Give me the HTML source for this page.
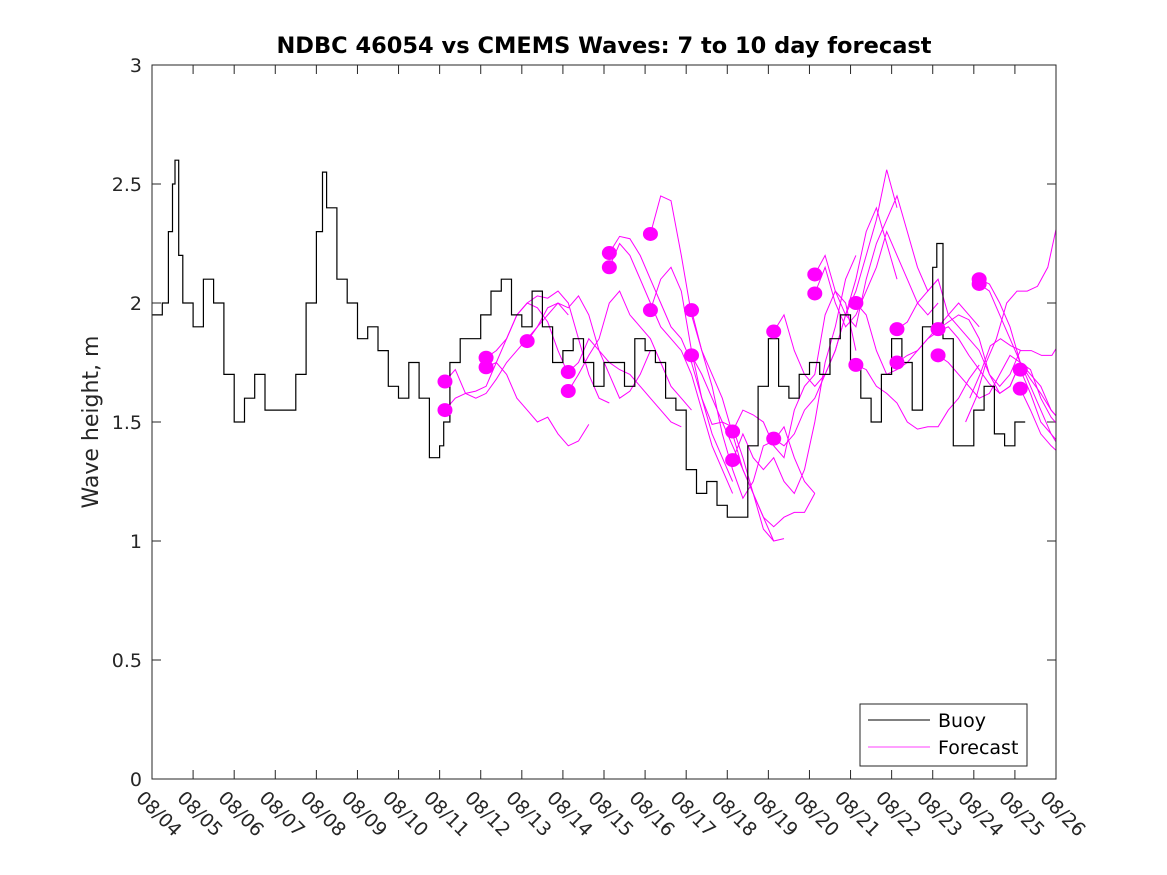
<!DOCTYPE html>
<html><head><meta charset="utf-8"><style>
body{margin:0;background:#fff;}
svg{display:block;font-family:"DejaVu Sans","Liberation Sans",sans-serif;}
</style></head><body>
<svg id="chart" width="1167" height="875" xmlns="http://www.w3.org/2000/svg">
<defs><clipPath id="plotclip"><rect x="152" y="65" width="904" height="714"/></clipPath></defs>
<rect width="1167" height="875" fill="#fff"/>
<text x="604" y="53" text-anchor="middle" font-size="22.5" font-weight="bold" fill="#000">NDBC 46054 vs CMEMS Waves: 7 to 10 day forecast</text>
<text transform="translate(98,422) rotate(-90)" text-anchor="middle" font-size="22" fill="#262626">Wave height, m</text>
<g id="axes"></g>
<g id="forecasts" clip-path="url(#plotclip)"></g>
<g id="buoy" clip-path="url(#plotclip)"></g>
<g id="dots"></g>
<rect x="152" y="65" width="904" height="714" fill="none" stroke="#262626" stroke-width="1"/>
<g>
<rect x="860" y="704" width="167" height="62" fill="#fff" stroke="#262626"/>
<line x1="868" y1="720" x2="930" y2="720" stroke="#000"/>
<text x="938" y="727" font-size="19" fill="#000">Buoy</text>
<line x1="868" y1="747" x2="930" y2="747" stroke="#ff00ff" stroke-width="0.7"/>
<text x="938" y="754" font-size="19" fill="#000">Forecast</text>
</g>
</svg>
<script>
const xTickLabels=["08/04","08/05","08/06","08/07","08/08","08/09","08/10","08/11","08/12","08/13","08/14","08/15","08/16","08/17","08/18","08/19","08/20","08/21","08/22","08/23","08/24","08/25","08/26"];
const yTicks=[0,0.5,1,1.5,2,2.5,3];
const buoyDays=[0,0.25,0.4,0.5,0.56,0.65,0.75,1.0,1.25,1.5,1.75,2.0,2.25,2.5,2.75,3.0,3.25,3.5,3.75,4.0,4.15,4.25,4.5,4.75,5.0,5.25,5.5,5.75,6.0,6.25,6.5,6.75,7.0,7.1,7.25,7.5,7.75,8.0,8.25,8.5,8.75,9.0,9.25,9.5,9.75,10.0,10.25,10.5,10.75,11.0,11.25,11.5,11.75,12.0,12.25,12.5,12.75,13.0,13.25,13.5,13.75,14.0,14.25,14.5,14.75,15.0,15.25,15.5,15.75,16.0,16.25,16.5,16.75,17.0,17.25,17.5,17.75,18.0,18.25,18.5,18.75,19.0,19.1,19.25,19.5,19.75,20.0,20.25,20.5,20.75,21.0,21.25];
const buoyVals=[1.95,2.0,2.3,2.5,2.6,2.2,2.0,1.9,2.1,2.0,1.7,1.5,1.6,1.7,1.55,1.55,1.55,1.7,2.0,2.3,2.55,2.4,2.1,2.0,1.85,1.9,1.8,1.65,1.6,1.75,1.6,1.35,1.4,1.5,1.75,1.85,1.85,1.95,2.05,2.1,1.95,1.9,2.05,1.9,1.75,1.8,1.85,1.75,1.65,1.75,1.75,1.65,1.85,1.8,1.75,1.6,1.55,1.3,1.2,1.25,1.15,1.1,1.1,1.4,1.65,1.85,1.65,1.6,1.7,1.75,1.7,1.85,1.95,1.75,1.6,1.5,1.7,1.85,1.75,1.55,1.9,2.15,2.25,1.85,1.4,1.4,1.55,1.65,1.45,1.4,1.5,1.5];
const dotDays=[7.13,7.13,8.13,8.13,9.13,10.13,10.13,11.13,11.13,12.13,12.13,13.13,13.13,14.13,14.13,15.13,15.13,16.13,16.13,17.13,17.13,18.13,18.13,19.13,19.13,20.13,20.13,21.13,21.13];
const dotVals=[1.67,1.55,1.77,1.73,1.84,1.71,1.63,2.21,2.15,2.29,1.97,1.97,1.78,1.46,1.34,1.88,1.43,2.12,2.04,2.0,1.74,1.89,1.75,1.89,1.78,2.10,2.08,1.72,1.64];
const fcStart=[7.13,7.13,8.13,8.13,9.13,10.13,10.13,11.13,11.13,12.13,12.13,13.13,13.13,14.13,14.13,15.13,15.13,16.13,16.13,17.13,17.13,18.13,18.13,19.13,19.13,20.13,20.13,21.13,21.13,19.8,19.9];
const fcVals=[
[1.67,1.72,1.62,1.63,1.65,1.75,1.85,1.95,2.0,1.98,1.92,1.80,1.70],
[1.55,1.60,1.62,1.60,1.62,1.68,1.75,1.80,1.85,1.90,1.95,2.0,1.95],
[1.77,1.80,1.85,1.95,2.0,2.03,2.02,2.05,2.0,1.85,1.70,1.60,1.58],
[1.73,1.75,1.70,1.60,1.55,1.50,1.52,1.45,1.40,1.42,1.49],
[1.84,1.90,1.98,2.0,1.98,2.03,1.95,1.80,1.70,1.60,1.63,1.70,1.80],
[1.71,1.75,1.85,1.80,1.75,1.72,1.70,1.65,1.60,1.55,1.50,1.48],
[1.63,1.70,1.78,1.85,2.0,2.05,1.95,1.90,1.85,1.75,1.65,1.60,1.55],
[2.21,2.28,2.27,2.20,2.10,2.0,1.90,1.85,1.75,1.60,1.45,1.35,1.25],
[2.15,2.25,2.20,2.10,2.0,1.90,1.85,1.80,1.70,1.55,1.40,1.30,1.20],
[2.29,2.45,2.43,2.20,1.95,1.80,1.70,1.60,1.45,1.30,1.20,1.05,1.00],
[1.97,2.10,2.15,2.05,1.80,1.60,1.49,1.50,1.48,1.35,1.20,1.10,1.00,1.01],
[1.97,1.80,1.65,1.45,1.30,1.18,1.25,1.40,1.42,1.48,1.35,1.25,1.20],
[1.78,1.70,1.60,1.50,1.40,1.30,1.20,1.10,1.06,1.10,1.12,1.12,1.20],
[1.46,1.55,1.53,1.50,1.40,1.35,1.55,1.65,1.70,1.95,2.05,2.0,1.80],
[1.34,1.45,1.35,1.30,1.35,1.25,1.20,1.30,1.50,1.75,1.90,2.10,2.20],
[1.88,1.95,1.80,1.70,1.65,1.70,1.80,1.95,2.10,2.30,2.40,2.25,2.10],
[1.43,1.40,1.45,1.55,1.60,1.70,1.80,1.95,2.05,2.20,2.35,2.56,2.40],
[2.12,2.20,2.05,1.95,1.90,2.10,2.25,2.35,2.45,2.30,2.15,2.05,2.10],
[2.04,2.15,2.0,1.90,1.95,2.05,2.15,2.30,2.20,2.10,2.0,1.95,2.0],
[2.0,1.95,1.80,1.70,1.72,1.75,1.80,1.85,1.90,1.95,2.0,1.95,1.90],
[1.74,1.72,1.65,1.62,1.58,1.50,1.47,1.48,1.48,1.55,1.60,1.68,1.74],
[1.89,1.92,2.0,2.05,2.10,1.95,1.90,1.85,1.80,1.70,1.65,1.70,1.80],
[1.75,1.78,1.80,1.85,1.88,1.90,1.85,1.78,1.72,1.66,1.62,1.65,1.75],
[1.89,1.92,1.95,1.93,1.85,1.70,1.62,1.65,1.75,1.72,1.60,1.52,1.47],
[1.78,1.75,1.70,1.65,1.60,1.62,1.70,1.78,1.75,1.65,1.55,1.45,1.40],
[2.10,2.08,2.0,1.90,1.75,1.70,1.65,1.55,1.50,1.45,1.40,1.35,1.33],
[2.08,2.05,1.95,1.85,1.75,1.68,1.62,1.55,1.50,1.43,1.38,1.33,1.30],
[1.72,1.62,1.50,1.45,1.38,1.35,1.30],
[1.64,1.55,1.45,1.40,1.36,1.42,1.47],
[1.50,1.60,1.75,1.85,2.0,2.05,2.05,2.07,2.15,2.35],
[1.60,1.70,1.82,1.85,1.82,1.80,1.80,1.78,1.78,1.85]
];
const X0=152,X1=1056,Y0=779,Y1=65,NDAYS=22,YMAX=3;
const sx=d=>X0+(X1-X0)*d/NDAYS;
const sy=v=>Y0-(Y0-Y1)*v/YMAX;
const NS="http://www.w3.org/2000/svg";
function mk(tag,attrs,parent){const e=document.createElementNS(NS,tag);for(const k in attrs)e.setAttribute(k,attrs[k]);parent.appendChild(e);return e;}
const axes=document.getElementById('axes');
xTickLabels.forEach((lab,i)=>{
  const x=sx(i);
  const t1=mk('line',{x1:x,y1:Y0,x2:x,y2:Y0-9,stroke:'#262626'},axes);
  
  
  const t2=mk('line',{x1:x,y1:Y1,x2:x,y2:Y1+9,stroke:'#262626'},axes);
  
  
  const tx=mk('text',{transform:`translate(${x-17},${Y0+20}) rotate(45)`,'font-size':19,fill:'#262626'},axes);
  tx.textContent=lab;
  
  
});
yTicks.forEach(v=>{
  const y=sy(v);
  const t1=mk('line',{x1:X0,y1:y,x2:X0+9,y2:y,stroke:'#262626'},axes);
  
  
  const t2=mk('line',{x1:X1,y1:y,x2:X1-9,y2:y,stroke:'#262626'},axes);
  
  
  const tx=mk('text',{x:X0-10,y:y+7,'text-anchor':'end','font-size':19,fill:'#262626'},axes);
  tx.textContent=String(v);
  
  
});
const fg=document.getElementById('forecasts');
fcVals.forEach((vals,j)=>{
  const pts=vals.map((v,k)=>sx(fcStart[j]+k*0.25).toFixed(1)+','+sy(v).toFixed(1)).join(' ');
  const pl=mk('polyline',{points:pts,fill:'none',stroke:'#ff00ff','stroke-width':1},fg);
  
  
});
let bp=[];
buoyDays.forEach((d,i)=>{
  const x=sx(d),y=sy(buoyVals[i]);
  if(i>0){bp.push(x.toFixed(1)+','+sy(buoyVals[i-1]).toFixed(1));}
  bp.push(x.toFixed(1)+','+y.toFixed(1));
});
const bl=mk('polyline',{points:bp.join(' '),fill:'none',stroke:'#000','stroke-width':1.2},document.getElementById('buoy'));


const dg=document.getElementById('dots');
dotDays.forEach((d,i)=>{
  const c=mk('ellipse',{cx:sx(d),cy:sy(dotVals[i]),rx:7.5,ry:7,fill:'#ff00ff'},dg);
  
  
});
</script>
</body></html>
